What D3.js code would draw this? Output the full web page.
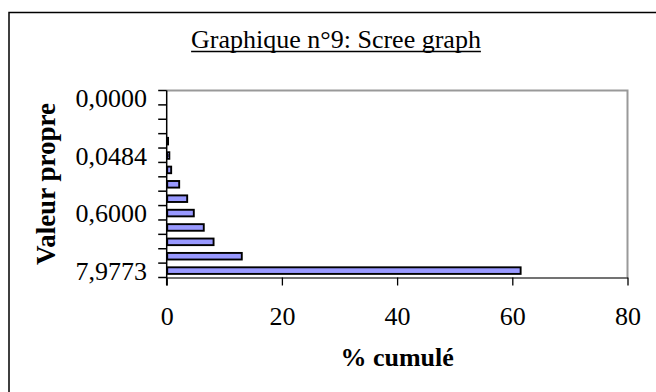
<!DOCTYPE html>
<html>
<head>
<meta charset="utf-8">
<script src="https://cdn.jsdelivr.net/npm/d3@7"></script>
<style>
  html, body { margin: 0; padding: 0; background: #fff; }
  svg { display: block; }
  text { font-family: "Liberation Serif", "Times New Roman", serif; fill: #000; }
</style>
</head>
<body>
<svg id="chart" width="656" height="392"></svg>
<script>
// Components, listed bottom-up (first component is drawn at the bottom)
const components = ["F1","F2","F3","F4","F5","F6","F7","F8","F9","F10","F11","F12","F13"];
// Share of total variance (%) explained by each component
const pctVariance = [61.36, 12.95, 8.05, 6.35, 4.62, 3.47, 2.08, 0.69, 0.37, 0.15, 0, 0, 0];
// Eigenvalue labels shown on the category axis
const eigenLabels = { F1: "7,9773", F5: "0,6000", F9: "0,0484", F13: "0,0000" };
// Value axis ticks
const xTicks = [0, 20, 40, 60, 80];

const svg = d3.select("#chart");

// outer frame
svg.append("rect")
  .attr("x", 9).attr("y", 12.5)
  .attr("width", 700).attr("height", 400)
  .attr("fill", "none").attr("stroke", "#000").attr("stroke-width", 1.5);

// title
const title = svg.append("text")
  .attr("x", 336).attr("y", 48)
  .attr("text-anchor", "middle")
  .style("font-size", "26px")
  .text("Graphique n°9: Scree graph");
const tb = title.node().getBBox();
svg.append("line")
  .attr("x1", tb.x).attr("x2", tb.x + tb.width)
  .attr("y1", 51.5).attr("y2", 51.5)
  .attr("stroke", "#000").attr("stroke-width", 1.5);

const plot = { left: 166.7, right: 627.5, top: 90.5, bottom: 277.5 };

const x = d3.scaleLinear().domain([0, 80]).range([plot.left, plot.right]);
const y = d3.scaleBand()
  .domain(components.slice().reverse())
  .range([plot.top, plot.bottom])
  .paddingInner(0.5)
  .paddingOuter(0.25);

// plot border (top and right, grey)
svg.append("path")
  .attr("d", `M${plot.left},${plot.top}H${plot.right}V${plot.bottom}`)
  .attr("fill", "none").attr("stroke", "#999").attr("stroke-width", 2);

// bars
const bh = y.bandwidth() - 0.6;
svg.append("g").selectAll("rect")
  .data(components.map((c, i) => ({ c, v: pctVariance[i] })).filter(d => d.v > 0))
  .join("rect")
  .attr("x", plot.left + 0.5)
  .attr("y", d => y(d.c) + (y.bandwidth() - bh) / 2 + 0.3)
  .attr("width", d => Math.max(0.8, x(d.v) - plot.left))
  .attr("height", bh)
  .attr("fill", "#9999ff")
  .attr("stroke", "#000")
  .attr("stroke-width", 1.9);

// category axis: tick marks at band boundaries
const step = y.step();
const boundaries = components.map(c => y(c) - (step - y.bandwidth()) / 2);
boundaries.push(plot.bottom);
svg.append("g").selectAll("line")
  .data(boundaries)
  .join("line")
  .attr("x1", plot.left - 8.5).attr("x2", plot.left)
  .attr("y1", d => d).attr("y2", d => d)
  .attr("stroke", "#000").attr("stroke-width", 1.5);
svg.append("line")
  .attr("x1", plot.left).attr("x2", plot.left)
  .attr("y1", plot.top).attr("y2", plot.bottom + 8)
  .attr("stroke", "#000").attr("stroke-width", 1.5);

// category labels (eigenvalues)
svg.append("g").selectAll("text")
  .data(Object.keys(eigenLabels))
  .join("text")
  .attr("x", 147)
  .attr("y", c => y(c) + y.bandwidth() / 2 + 9.5)
  .attr("text-anchor", "end")
  .style("font-size", "26px")
  .text(c => eigenLabels[c]);

// value axis
const xAxis = svg.append("g")
  .attr("transform", `translate(0,${plot.bottom})`)
  .call(d3.axisBottom(x).tickValues(xTicks).tickSize(8).tickSizeOuter(0).tickFormat(d3.format("d")));
xAxis.select(".domain").attr("stroke", "#444").attr("stroke-width", 1.5);
xAxis.selectAll(".tick line").attr("stroke", "#000").attr("stroke-width", 1.3);
xAxis.selectAll(".tick text")
  .attr("y", 47.5).attr("dy", null)
  .style("font-family", "\"Liberation Serif\", serif")
  .style("font-size", "26px")
  .attr("fill", "#000");

// axis titles
svg.append("text")
  .attr("x", (plot.left + plot.right) / 2).attr("y", 366)
  .attr("text-anchor", "middle")
  .style("font-size", "26px").style("font-weight", "bold")
  .text("% cumulé");

svg.append("text")
  .attr("transform", "translate(55,184) rotate(-90)")
  .attr("text-anchor", "middle")
  .style("font-size", "27px").style("font-weight", "bold")
  .text("Valeur propre");
</script>
</body>
</html>
